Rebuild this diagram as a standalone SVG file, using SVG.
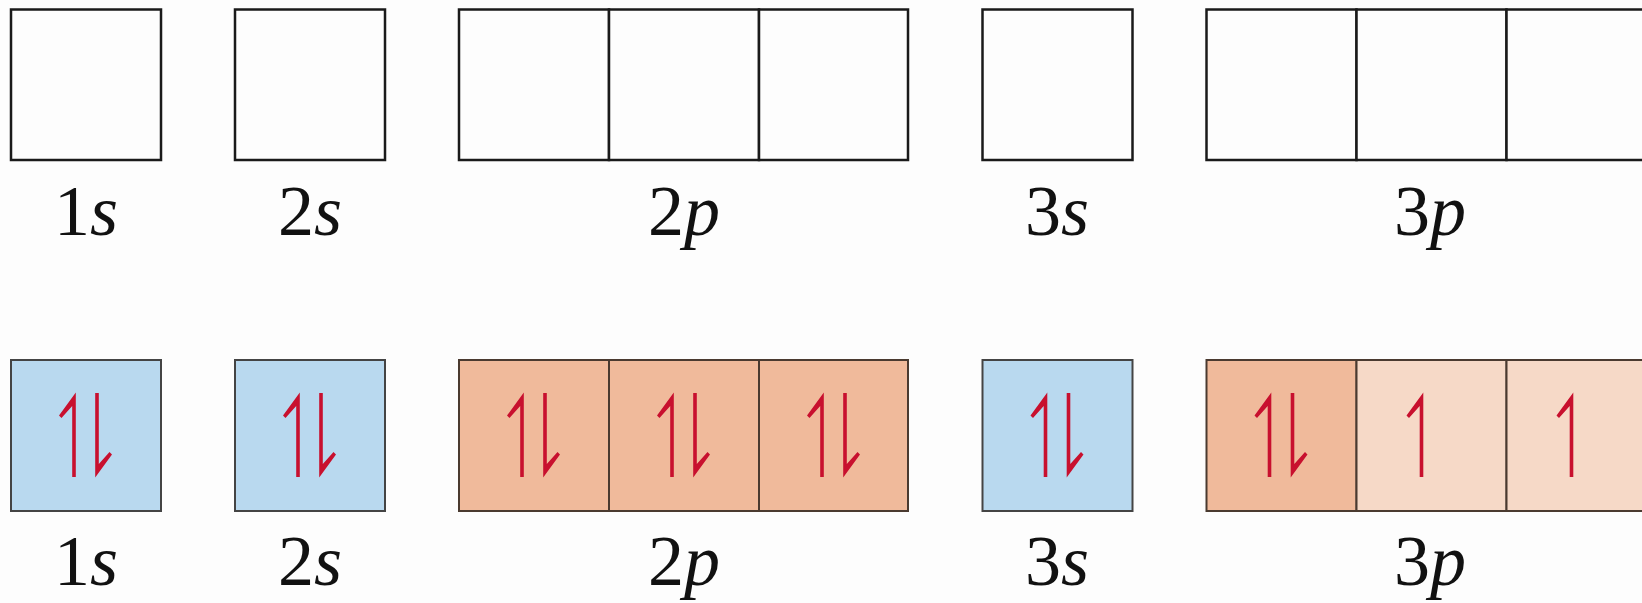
<svg xmlns="http://www.w3.org/2000/svg" xmlns:xlink="http://www.w3.org/1999/xlink" width="1642" height="603" viewBox="0 0 1642 603">
<style>
.empty{fill:#fdfdfd;stroke:#1a1a1a;stroke-width:2.5}
.blue{fill:#b9d9ef;stroke:#444;stroke-width:2}
.orange{fill:#f0ba9b;stroke:#4a3a30;stroke-width:2}
.light{fill:#f6d9c7;stroke:#4a3a30;stroke-width:2}
text{font-family:'Liberation Serif','Times New Roman','DejaVu Serif',serif;font-size:72px;fill:#111;text-anchor:middle}
.it{font-style:italic}
.arr{fill:#c8102e}
</style>
<defs>
<path id="up" class="arr" d="M1.8,-0.5 L1.8,84 L-1.8,84 L-1.8,13 L-12.5,25 L-15,22.5 Z"/>
<path id="down" class="arr" d="M-1.8,84.5 L-1.8,0 L1.8,0 L1.8,71 L12.5,59 L15,61.5 Z"/>
<g id="pair"><use xlink:href="#up" x="63"/><use xlink:href="#down" x="86"/></g>
<g id="single"><use xlink:href="#up" x="65"/></g>
</defs>
<rect width="1642" height="603" fill="#fdfdfd"/>
<g id="top-1s"><rect class="empty" x="11" y="9.5" width="150" height="150.5"/><text x="86" y="235">1<tspan class="it">s</tspan></text></g>
<g id="top-2s"><rect class="empty" x="235" y="9.5" width="150" height="150.5"/><text x="310" y="235">2<tspan class="it">s</tspan></text></g>
<g id="top-2p"><rect class="empty" x="459" y="9.5" width="150" height="150.5"/><rect class="empty" x="609" y="9.5" width="150" height="150.5"/><rect class="empty" x="759" y="9.5" width="149" height="150.5"/><text x="684" y="235">2<tspan class="it">p</tspan></text></g>
<g id="top-3s"><rect class="empty" x="982.5" y="9.5" width="150" height="150.5"/><text x="1057" y="235">3<tspan class="it">s</tspan></text></g>
<g id="top-3p"><rect class="empty" x="1206.5" y="9.5" width="150" height="150.5"/><rect class="empty" x="1356.5" y="9.5" width="150" height="150.5"/><rect class="empty" x="1506.5" y="9.5" width="150" height="150.5"/><text x="1430" y="235">3<tspan class="it">p</tspan></text></g>
<g id="bot-1s"><rect class="blue" x="11" y="360" width="150" height="151"/><use xlink:href="#pair" x="11" y="393"/><text x="86" y="585">1<tspan class="it">s</tspan></text></g>
<g id="bot-2s"><rect class="blue" x="235" y="360" width="150" height="151"/><use xlink:href="#pair" x="235" y="393"/><text x="310" y="585">2<tspan class="it">s</tspan></text></g>
<g id="bot-2p"><rect class="orange" x="459" y="360" width="150" height="151"/><rect class="orange" x="609" y="360" width="150" height="151"/><rect class="orange" x="759" y="360" width="149" height="151"/><use xlink:href="#pair" x="459" y="393"/><use xlink:href="#pair" x="609" y="393"/><use xlink:href="#pair" x="759" y="393"/><text x="684" y="585">2<tspan class="it">p</tspan></text></g>
<g id="bot-3s"><rect class="blue" x="982.5" y="360" width="150" height="151"/><use xlink:href="#pair" x="982.5" y="393"/><text x="1057" y="585">3<tspan class="it">s</tspan></text></g>
<g id="bot-3p"><rect class="orange" x="1206.5" y="360" width="150" height="151"/><rect class="light" x="1356.5" y="360" width="150" height="151"/><rect class="light" x="1506.5" y="360" width="150" height="151"/><use xlink:href="#pair" x="1206.5" y="393"/><use xlink:href="#single" x="1356.5" y="393"/><use xlink:href="#single" x="1506.5" y="393"/><text x="1430" y="585">3<tspan class="it">p</tspan></text></g>
<g id="connectors"/>
</svg>
